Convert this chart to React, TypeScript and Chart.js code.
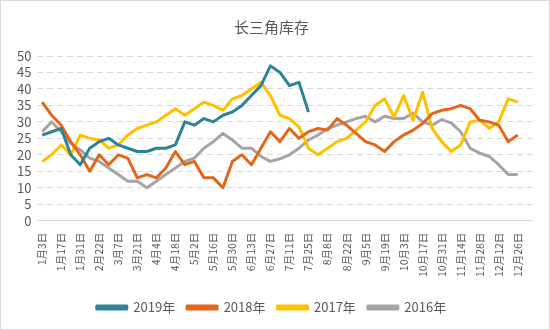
import React, { useEffect, useRef } from "react";
import { Chart, registerables } from "chart.js";

Chart.register(...registerables);

const categories = [
  "1月3日", "1月10日", "1月17日", "1月24日", "1月31日", "2月15日", "2月22日", "2月28日",
  "3月7日", "3月14日", "3月21日", "3月28日", "4月4日", "4月11日", "4月18日", "4月25日",
  "5月2日", "5月9日", "5月16日", "5月23日", "5月30日", "6月6日", "6月13日", "6月20日",
  "6月27日", "7月4日", "7月11日", "7月18日", "7月25日", "8月1日", "8月8日", "8月15日",
  "8月22日", "8月29日", "9月5日", "9月12日", "9月19日", "9月26日", "10月3日", "10月10日",
  "10月17日", "10月24日", "10月31日", "11月7日", "11月14日", "11月21日", "11月28日", "12月5日",
  "12月12日", "12月19日", "12月26日", "",
];

const seriesNames = ["2019年", "2018年", "2017年", "2016年"];

const values2019 = [
  26, 27, 28, 20, 17, 22, 24, 25, 23, 22, 21, 21, 22, 22, 23, 30, 29, 31, 30, 32,
  33, 35, 38, 41, 47, 45, 41, 42, 33,
];

const values2018 = [
  36, 32, 29, 24, 20, 15, 20, 17, 20, 19, 13, 14, 13, 16, 21, 17, 18, 13, 13, 10,
  18, 20, 17, 22, 27, 24, 28, 25, 27, 28, 27.5, 31, 29, 26.5, 24, 23, 21, 24, 26, 27.5,
  29.5, 32.5, 33.5, 34, 35, 34, 30.5, 30, 29, 24, 26,
];

const values2017 = [
  18, 20, 23, 20, 26, 25, 24.5, 22, 23, 26, 28, 29, 30, 32, 34, 32, 34, 36, 35, 33.5,
  37, 38, 40, 42, 38, 32, 31, 28.5, 22, 20, 22, 24, 25, 27.5, 30, 35, 37, 31.5, 38, 30.5,
  39, 28, 24, 21, 23, 30, 30.5, 28, 30, 37, 36,
];

const values2016 = [
  27, 30, 27, 23.5, 21.5, 19, 18, 16, 14, 12, 12, 10, 12, 14, 16, 18, 19, 22, 24, 26.5,
  24.5, 22, 22, 19.5, 18, 18.8, 20, 22, 24.5, 26, 28, 29, 30, 31, 31.7, 30, 31.7, 31, 31, 32.7,
  30, 29, 30.7, 29.7, 27, 22, 20.5, 19.5, 17, 14, 14,
];

const colors = ["#2E8396", "#E2671A", "#FFC000", "#A5A5A5"];

const FONT = '"Noto Sans CJK SC", "Noto Sans", sans-serif';
const TEXT = "#595959";

const frame = {
  id: "frame",
  afterDraw(chart: any) {
    const c = chart.ctx;
    c.save();
    c.strokeStyle = "#d9d9d9";
    c.lineWidth = 1;
    c.strokeRect(0.5, 0.5, chart.width - 1, chart.height - 1);
    c.restore();
  },
};

export default function App() {
  const ref = useRef<HTMLCanvasElement>(null);

  useEffect(() => {
    document.body.style.margin = "0";
    const all = [values2019, values2018, values2017, values2016];
    const chart = new Chart(ref.current!, {
      type: "line",
      data: {
        labels: categories,
        datasets: all.map((d, i) => ({
          label: seriesNames[i],
          data: d,
          borderColor: colors[i],
          backgroundColor: colors[i],
          borderWidth: 3,
          pointRadius: 0,
          tension: 0,
          fill: false,
          borderJoinStyle: "round" as const,
        })),
      },
      options: {
        animation: false,
        responsive: false,
        maintainAspectRatio: false,
        layout: { padding: { left: 11, right: 18, top: 0, bottom: 6 } },
        plugins: {
          title: {
            display: true,
            text: "长三角库存",
            color: TEXT,
            font: { family: FONT, size: 15, weight: "normal" },
            padding: { top: 18, bottom: 20 },
          },
          legend: {
            position: "bottom",
            labels: {
              color: TEXT,
              font: { family: FONT, size: 13 },
              boxWidth: 30,
              boxHeight: 3,
              padding: 12,
            },
          },
          tooltip: { enabled: false },
        },
        scales: {
          x: {
            offset: true,
            grid: { display: false },
            border: { display: true, color: "#d9d9d9" },
            afterFit: (scale: any) => {
              scale.height += 8;
            },
            ticks: {
              autoSkip: false,
              maxRotation: 90,
              minRotation: 90,
              color: TEXT,
              font: { family: FONT, size: 10.5 },
              padding: 4,
              callback: (_v: any, i: number) => (i % 2 === 0 ? categories[i] : ""),
            },
          },
          y: {
            min: 0,
            max: 50,
            border: { display: false, dash: [6, 4] },
            grid: { color: "#d9d9d9", drawTicks: false },
            ticks: {
              stepSize: 5,
              autoSkip: false,
              color: TEXT,
              font: { family: FONT, size: 13 },
              padding: 6,
            },
          },
        },
      },
      plugins: [frame],
    });
    return () => chart.destroy();
  }, []);

  return <canvas ref={ref} width={550} height={330} style={{ display: "block", width: 550, height: 330 }} />;
}
